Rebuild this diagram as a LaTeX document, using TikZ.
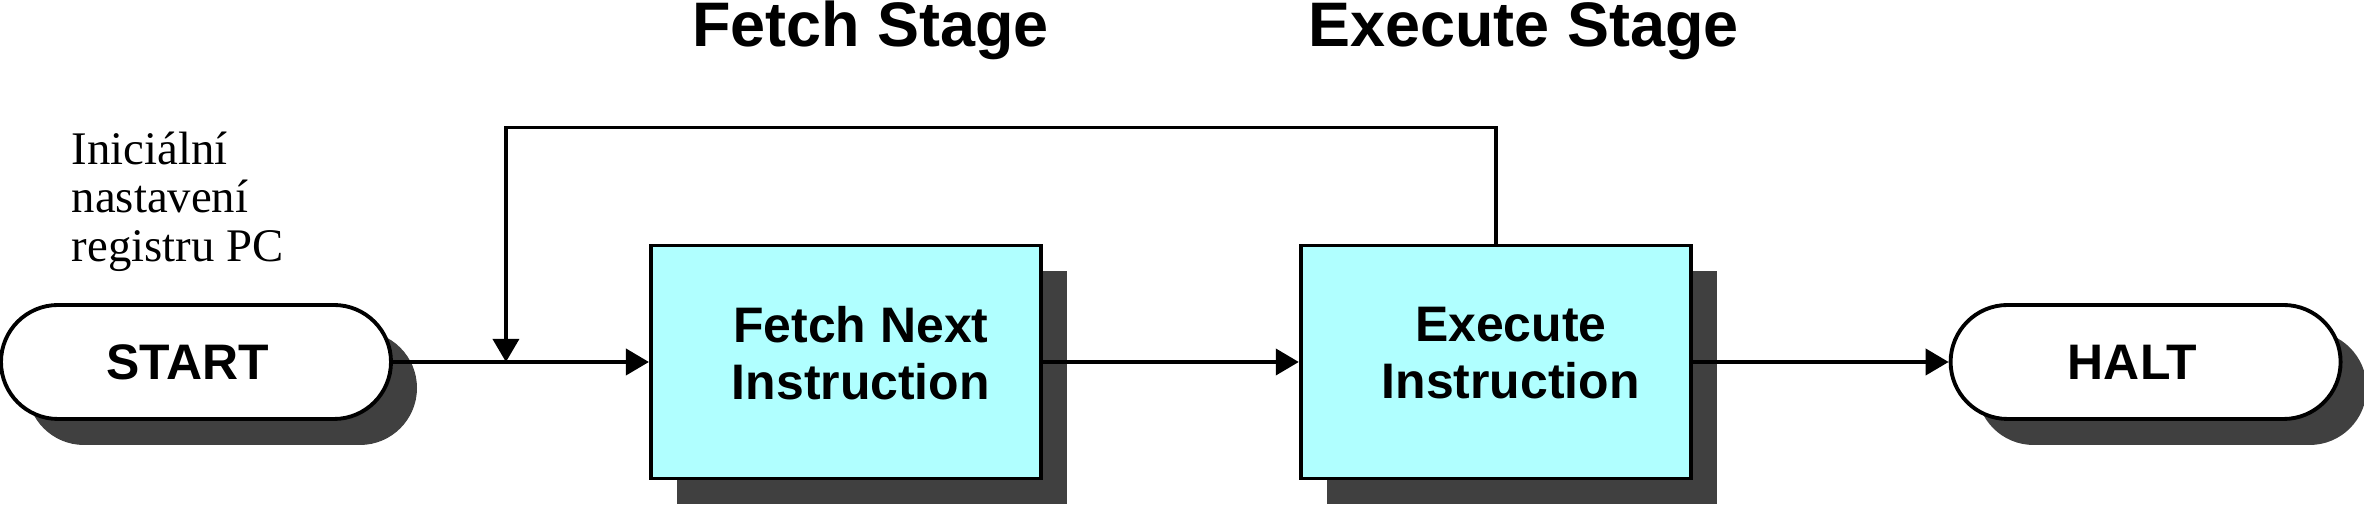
\documentclass[tikz,border=0pt]{standalone}
\usepackage{fontspec}
\setmainfont{Liberation Serif}
\setsansfont{Liberation Sans}
\usetikzlibrary{arrows.meta,positioning,calc,shadows}
\definecolor{boxcyan}{RGB}{176,255,255}
\definecolor{shadowgray}{RGB}{64,64,64}

\begin{document}
\begin{tikzpicture}[node distance=2.56cm,
 every node/.style={font=\sffamily\bfseries\fontsize{14.2}{16.2}\selectfont},
 dropgray/.style={drop shadow={shadow xshift=0.26cm,shadow yshift=-0.26cm,fill=shadowgray,opacity=1}},
 box/.style={draw,line width=1.1pt,fill=boxcyan,minimum width=3.9cm,minimum height=2.33cm,dropgray},
 term/.style={draw,line width=1.1pt,fill=white,rounded corners=0.57cm,minimum width=3.9cm,minimum height=1.14cm,dropgray},
 title/.style={anchor=base,font=\sffamily\bfseries\fontsize{17.9}{20}\selectfont},
 note/.style={anchor=north west,inner sep=0pt,align=left,font=\rmfamily\fontsize{13.3}{13.8}\selectfont},
 arr/.style={-{Triangle[length=0.23cm,width=0.26cm]},line width=1.1pt},
 back/.style={-{Triangle[length=0.23cm,width=0.26cm]},line width=1pt}]
\useasboundingbox (0,0) rectangle (23.64,5.06);
\node[term,label={[xshift=-0.08cm]center:START}] (start) at (1.96,1.44) {};
\node[box,right=of start,label={[xshift=0.15cm,yshift=0.09cm,align=center]center:{Fetch Next\\Instruction}}] (fetch) {};
\node[box,right=of fetch,label={[xshift=0.15cm,yshift=0.09cm,align=center]center:{Execute\\Instruction}}] (exec) {};
\node[term,right=of exec,label={[xshift=-0.13cm]center:HALT}] (halt) {};
\node[title] (fetchstage) at (8.705,4.59) {Fetch Stage};
\node[title] (execstage) at (15.235,4.59) {Execute Stage};
\node[note] (init) at (0.71,3.75) {Iniciální\\nastavení\\registru PC};
\coordinate (merge) at ($(start.east)+(1.13,0)$);
% program counter loop
\draw[arr] (start) -- (fetch);
\draw[arr] (fetch) -- (exec);
\draw[arr] (exec) -- (halt);
\draw[back] (exec.north) -- ++(0,1.16) -| (merge);
\end{tikzpicture}
\end{document}
